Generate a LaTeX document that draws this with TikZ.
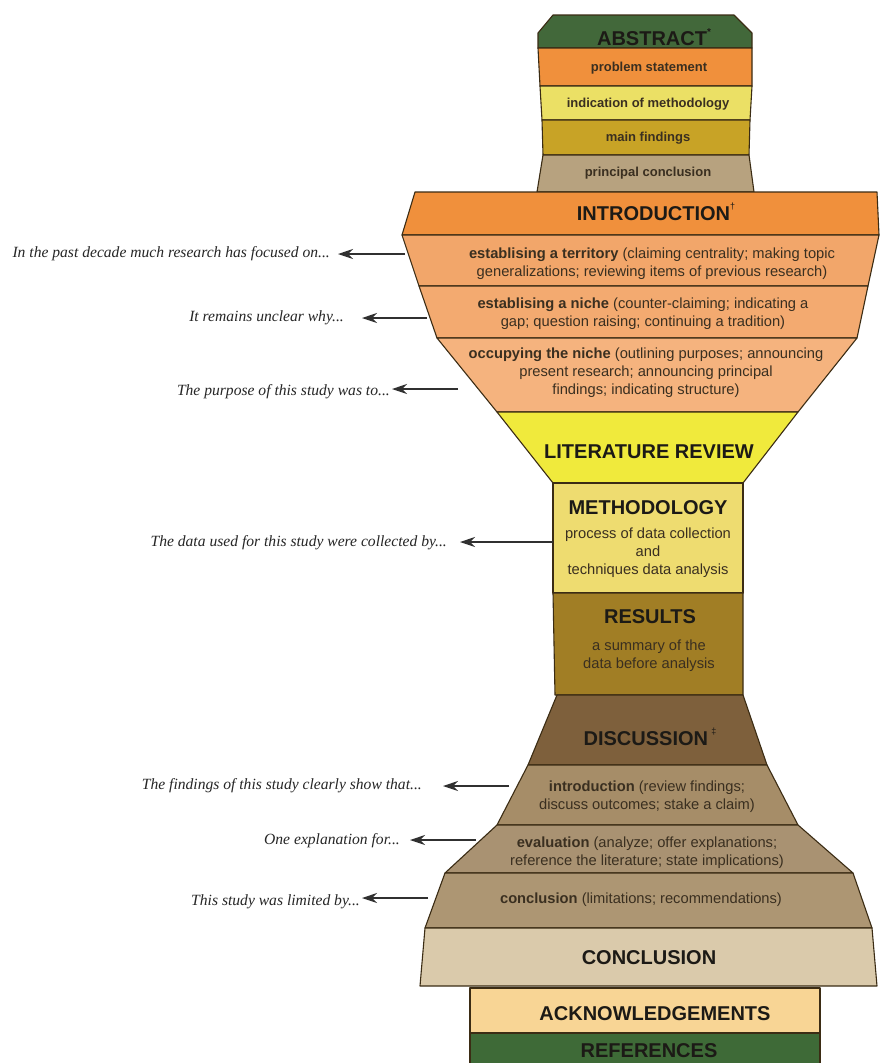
\documentclass[tikz,border=0pt]{standalone}
\usepackage{fontspec}
\setmainfont{Liberation Sans}
\newfontfamily\labelfont{Liberation Serif}
\usetikzlibrary{arrows.meta}
\definecolor{outl}{HTML}{3B2C14}
\definecolor{headc}{HTML}{1C1A16}
\definecolor{subc}{HTML}{3A2F20}
\definecolor{labc}{HTML}{262626}
\definecolor{arrc}{HTML}{303030}
\definecolor{greenA}{HTML}{42683A}
\definecolor{orangeA}{HTML}{F0903C}
\definecolor{yellowA}{HTML}{EBE065}
\definecolor{goldA}{HTML}{C8A326}
\definecolor{tanA}{HTML}{B7A27F}
\definecolor{orTerr}{HTML}{F2A66A}
\definecolor{orNiche}{HTML}{F3AA70}
\definecolor{orOcc}{HTML}{F5B37E}
\definecolor{litY}{HTML}{F0EA3C}
\definecolor{methY}{HTML}{EEDC70}
\definecolor{resB}{HTML}{A17E25}
\definecolor{discB}{HTML}{7E603C}
\definecolor{dIntro}{HTML}{A68D68}
\definecolor{dEval}{HTML}{A99272}
\definecolor{dConc}{HTML}{AD9673}
\definecolor{concT}{HTML}{DACAAB}
\definecolor{ackP}{HTML}{F8D595}
\definecolor{refG}{HTML}{3E6A37}
\begin{document}
\begin{tikzpicture}[x=1pt,y=-1pt,
  band/.style={draw=outl, line width=1.1pt, line join=round},
  head/.style={font=\fontsize{20}{22}\selectfont\bfseries, text=headc, inner sep=0pt},
  sub/.style={font=\fontsize{14.7}{18}\selectfont, text=subc, align=center, inner sep=0pt},
  abs/.style={font=\fontsize{13}{15}\selectfont\bfseries, text=subc, inner sep=0pt},
  lab/.style={font=\labelfont\itshape\fontsize{15.6}{17}\selectfont, text=labc, anchor=east, inner sep=0pt},
  arr/.style={draw=arrc, line width=1.3pt, -{Stealth[length=15pt,width=10pt,inset=5pt]}}
]
\useasboundingbox (0,0) rectangle (879,1063);
\fill[white] (0,0) rectangle (879,1063);

% ---------- ABSTRACT ----------
\draw[band, fill=greenA] (553,15) -- (734,15) -- (752,33) -- (752,48) -- (538,48) -- (538,33) -- cycle;
\draw[band, fill=orangeA] (538,48) -- (752,48) -- (752,86) -- (540,86) -- cycle;
\draw[band, fill=yellowA] (540,86) -- (752,86) -- (750,120) -- (542,120) -- cycle;
\draw[band, fill=goldA] (542,120) -- (750,120) -- (749,155) -- (543,155) -- cycle;
\draw[band, fill=tanA] (543,155) -- (749,155) -- (754,192) -- (537,192) -- cycle;

% ---------- INTRODUCTION ----------
\draw[band, fill=orangeA] (415,192) -- (877,192) -- (879,235) -- (402,235) -- cycle;
\draw[band, fill=orTerr] (402,235) -- (879,235) -- (868,286) -- (419,286) -- cycle;
\draw[band, fill=orNiche] (419,286) -- (868,286) -- (857,338) -- (437,338) -- cycle;
\draw[band, fill=orOcc] (437,338) -- (857,338) -- (798,412) -- (497,412) -- cycle;
\draw[band, fill=litY] (497,412) -- (798,412) -- (743,483) -- (553,483) -- cycle;

% ---------- METHODOLOGY / RESULTS ----------
\draw[band, fill=methY] (553,483) -- (743,483) -- (743,593) -- (553,593) -- cycle;
\draw[band, fill=resB] (553,593) -- (743,593) -- (743,695) -- (555,695) -- cycle;

% ---------- DISCUSSION ----------
\draw[band, fill=discB] (557,695) -- (743,695) -- (767,765) -- (528,765) -- cycle;
\draw[band, fill=dIntro] (528,765) -- (767,765) -- (798,825) -- (497,825) -- cycle;
\draw[band, fill=dEval] (497,825) -- (798,825) -- (853,873) -- (445,873) -- cycle;
\draw[band, fill=dConc] (445,873) -- (853,873) -- (872,928) -- (425,928) -- cycle;

% ---------- CONCLUSION etc ----------
\draw[band, fill=concT] (425,928) -- (872,928) -- (877,986) -- (420,986) -- cycle;
\draw[band, fill=ackP] (470,988) -- (820,988) -- (820,1033) -- (470,1033) -- cycle;
\draw[band, fill=refG] (470,1033) -- (820,1033) -- (820,1066) -- (470,1066) -- cycle;

% ---------- texts in bands ----------
\node[head] (abst) at (654,37) {ABSTRACT\raisebox{0.9ex}{\fontsize{10}{10}\selectfont *}};
\node[abs] (ps) at (649,68) {problem statement};
\node[abs] (im) at (648,104) {indication of methodology};
\node[abs] (mf) at (648,138) {main findings};
\node[abs] (pc) at (648,173) {principal conclusion};

\node[head] (intro) at (656,212) {INTRODUCTION\raisebox{1.0ex}{\fontsize{9}{9}\selectfont\mdseries †}};
\node[sub] (terr) at (652,264) {\textbf{establising a territory} (claiming centrality; making topic\\generalizations; reviewing items of previous research)};
\node[sub] (niche) at (643,314) {\textbf{establising a niche} (counter-claiming; indicating a\\gap; question raising; continuing a tradition)};
\node[sub] (occ) at (646,373) {\textbf{occupying the niche} (outlining purposes; announcing\\present research; announcing principal\\findings; indicating structure)};
\node[head] (lit) at (649,452) {LITERATURE REVIEW};

\node[head] (meth) at (648,508) {METHODOLOGY};
\node[sub] (methsub) at (648,553) {process of data collection\\and\\techniques data analysis};
\node[head] (res) at (650,617) {RESULTS};
\node[sub] (ressub) at (649,656) {a summary of the\\data before analysis};

\node[head] (disc) at (650,737) {DISCUSSION\,\raisebox{1.0ex}{\fontsize{9}{9}\selectfont\mdseries ‡}};
\node[sub] (dint) at (647,797) {\textbf{introduction} (review findings;\\discuss outcomes; stake a claim)};
\node[sub] (dev) at (647,853) {\textbf{evaluation} (analyze; offer explanations;\\reference the literature; state implications)};
\node[sub] (dcon) at (641,900) {\textbf{conclusion} (limitations; recommendations)};

\node[head] (conc) at (649,958) {CONCLUSION};
\node[head] (ack) at (655,1014) {ACKNOWLEDGEMENTS};
\node[head] (ref) at (649,1051) {REFERENCES};

% ---------- side labels ----------
\node[lab] (l1) at (330,254) {In the past decade much research has focused on...};
\node[lab] (l2) at (344,318) {It remains unclear why...};
\node[lab] (l3) at (390,392) {The purpose of this study was to...};
\node[lab] (l4) at (447,543) {The data used for this study were collected by...};
\node[lab] (l5) at (422,786) {The findings of this study clearly show that...};
\node[lab] (l6) at (400,841) {One explanation for...};
\node[lab] (l7) at (360,902) {This study was limited by...};

\coordinate (s1) at (405,254);
\coordinate (s2) at (427,318);
\coordinate (s3) at (458,389);
\coordinate (s4) at (553,542);
\coordinate (s5) at (509,786);
\coordinate (s6) at (476,840);
\coordinate (s7) at (428,898);

\draw[arr, shorten >=8pt] (s1) -- (s1 -| l1.east);
\draw[arr, shorten >=18pt] (s2) -- (s2 -| l2.east);
\draw[arr, shorten >=2pt] (s3) -- (s3 -| l3.east);
\draw[arr, shorten >=13pt] (s4) -- (s4 -| l4.east);
\draw[arr, shorten >=21pt] (s5) -- (s5 -| l5.east);
\draw[arr, shorten >=10pt] (s6) -- (s6 -| l6.east);
\draw[arr, shorten >=2pt] (s7) -- (s7 -| l7.east);
\end{tikzpicture}
\end{document}
